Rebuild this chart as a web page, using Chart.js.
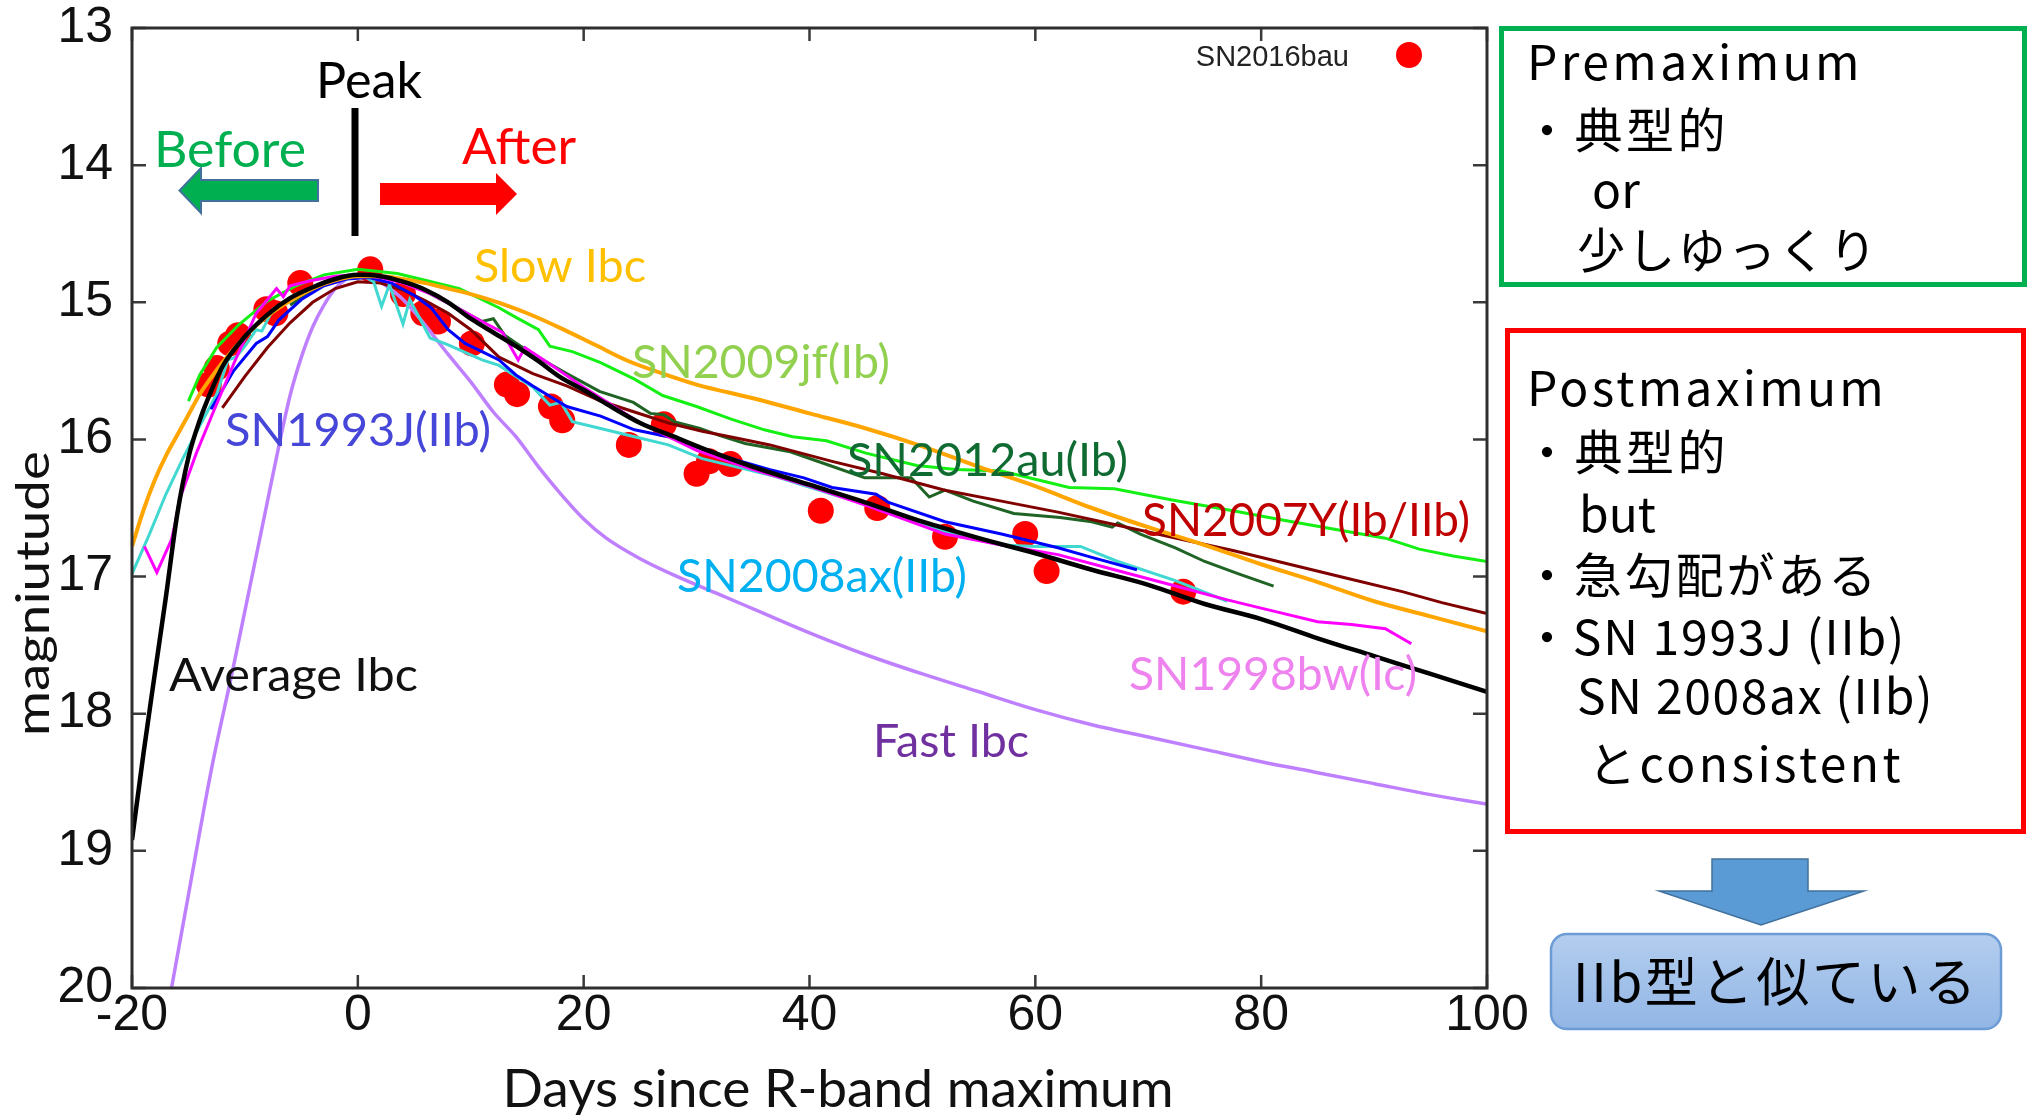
<!DOCTYPE html>
<html>
<head>
<meta charset="utf-8">
<title>SN2016bau R-band light curve</title>
<script src="https://cdn.jsdelivr.net/npm/chart.js@4.4.1/dist/chart.umd.min.js"></script>
<style>
  html, body { margin: 0; padding: 0; background: #fff; }
  #wrap { position: relative; width: 2034px; height: 1115px; }
</style>
</head>
<body>
<div id="wrap"><canvas id="lcChart" width="2034" height="1115"></canvas></div>
<script>
// Days since R-band maximum / R magnitude

// SN2016bau observations (red dots)
var bauDays = [-13.2, -12.5, -11.3, -10.6, -8.1, -7.3, -5.1, 1.1, 4.0, 5.8, 7.1, 10.1, 13.2, 14.1,
  17.1, 18.1, 24.0, 27.1, 30.0, 31.1, 33.0, 41.0, 46.0, 52.0, 59.1, 61.0, 73.1];
var bauMag = [15.60, 15.48, 15.30, 15.24, 15.05, 15.08, 14.86, 14.76, 14.94, 15.08, 15.14, 15.30, 15.60, 15.67,
  15.76, 15.86, 16.04, 15.89, 16.25, 16.16, 16.18, 16.52, 16.50, 16.71, 16.69, 16.96, 17.11];

// Average Ibc template
var avgDays = [-20, -19, -18, -17, -16, -15, -14, -13, -12, -10, -8, -6, -4, -2, 0, 2, 4, 6, 8, 10, 12, 14,
  16, 18, 20, 22, 25, 28, 31, 35, 40, 45, 50, 55, 60, 65, 70, 75, 80, 85, 90, 95, 100];
var avgMag = [18.92, 18.30, 17.72, 17.15, 16.55, 16.13, 15.86, 15.65, 15.47, 15.25, 15.09, 14.97, 14.89, 14.83,
  14.80, 14.81, 14.85, 14.91, 15.00, 15.12, 15.22, 15.32, 15.43, 15.55, 15.64, 15.74, 15.88, 15.98, 16.08,
  16.20, 16.33, 16.46, 16.60, 16.72, 16.83, 16.95, 17.06, 17.20, 17.31, 17.45, 17.58, 17.71, 17.84];

// Slow Ibc template
var slowDays = [-20, -19, -18, -17, -16, -15, -14, -13, -12, -10, -8, -6, -4, -2, 0, 2, 4, 6, 8, 10, 12, 15,
  18, 21, 24, 27, 30, 35, 40, 45, 50, 55, 60, 65, 70, 75, 80, 85, 90, 95, 100];
var slowMag = [16.78, 16.52, 16.30, 16.12, 15.97, 15.82, 15.67, 15.55, 15.44, 15.25, 15.10, 14.99, 14.90,
  14.84, 14.81, 14.81, 14.83, 14.86, 14.90, 14.94, 14.99, 15.08, 15.19, 15.31, 15.43, 15.52, 15.60, 15.70,
  15.81, 15.92, 16.05, 16.20, 16.34, 16.50, 16.64, 16.77, 16.91, 17.04, 17.18, 17.29, 17.40];

// Fast Ibc template
var fastDays = [-16.5, -15, -13, -11, -10, -9, -8, -7, -6, -5, -4, -3, -2, -1, 0, 1, 2, 3, 4, 5, 6, 8, 10,
  12, 14, 16, 18, 20, 22, 25, 28, 32, 36, 40, 45, 50, 55, 60, 65, 70, 75, 80, 85, 90, 95, 100];
var fastMag = [20.0, 19.32, 18.42, 17.65, 17.25, 16.85, 16.45, 16.05, 15.68, 15.40, 15.18, 15.02, 14.90,
  14.83, 14.80, 14.81, 14.85, 14.91, 14.98, 15.07, 15.17, 15.38, 15.58, 15.80, 15.98, 16.20, 16.40, 16.58,
  16.72, 16.87, 16.99, 17.13, 17.27, 17.41, 17.57, 17.71, 17.84, 17.97, 18.08, 18.17, 18.26, 18.35, 18.43,
  18.51, 18.59, 18.66];

// SN2009jf (Ib)
var jfDays = [-15, -14, -12.5, -10.5, -8, -5.5, -3, 0, 3.5, 6.5, 9, 12.5, 14, 16, 17, 19, 21.5, 24.5, 27,
  30, 33, 36, 38.5, 41.5, 45, 49.5, 53, 57, 60, 63, 67, 72, 77.5, 82, 87.5, 91, 94, 97, 100];
var jfMag = [15.72, 15.53, 15.33, 15.16, 14.99, 14.88, 14.80, 14.76, 14.79, 14.85, 14.90, 15.04, 15.11,
  15.20, 15.32, 15.36, 15.44, 15.56, 15.68, 15.76, 15.85, 15.93, 15.98, 16.01, 16.10, 16.19, 16.22, 16.23,
  16.29, 16.35, 16.36, 16.44, 16.52, 16.59, 16.67, 16.72, 16.80, 16.85, 16.89];

// SN2012au (Ib)
var auDays = [-6, -3, 0, 3, 6, 9, 11, 12, 13, 15.5, 18.5, 21.4, 24.4, 25.9, 27.1, 28, 30.3, 32, 34.3, 38.3,
  41.8, 44.9, 47, 49, 50.6, 52, 54.5, 58.1, 62.2, 65, 66.8, 67.3, 69.3, 72.4, 75, 78, 81.1];
var auMag = [15.02, 14.87, 14.80, 14.82, 14.92, 15.05, 15.14, 15.12, 15.24, 15.38, 15.52, 15.65, 15.73,
  15.81, 15.82, 15.87, 15.92, 15.97, 16.03, 16.09, 16.19, 16.28, 16.28, 16.28, 16.42, 16.37, 16.45, 16.54,
  16.57, 16.60, 16.64, 16.61, 16.69, 16.79, 16.89, 16.98, 17.07];

// SN2007Y (Ib/IIb)
var yDays = [-12, -10, -8, -6, -4, -2, 0, 2, 4, 6, 8, 10, 12.5, 15.5, 18.5, 21.5, 24.5, 27.5, 30.5, 33.5,
  36.5, 42, 46.5, 52, 57, 62, 67, 72.5, 77.5, 82.5, 87.5, 92.5, 96, 100];
var yMag = [15.77, 15.54, 15.33, 15.15, 15.00, 14.90, 14.85, 14.86, 14.91, 14.99, 15.08, 15.20, 15.40,
  15.52, 15.61, 15.72, 15.80, 15.88, 15.94, 15.99, 16.04, 16.16, 16.25, 16.37, 16.45, 16.53, 16.62, 16.72,
  16.81, 16.91, 17.01, 17.11, 17.19, 17.27];

// SN2008ax (IIb)
var axDays = [-20, -18.5, -17, -15.5, -14, -12.5, -11.5, -10.8, -10, -9, -8.5, -7.5, -5.5, -2.5, 0.5, 1.4,
  2.1, 2.8, 4.0, 4.6, 6.4, 8, 11, 12.5, 15.5, 17, 18, 19, 21.5, 24.5, 27.5, 30.5, 33.5, 37, 42, 47, 52, 57,
  60, 64, 67.3, 72.4, 77];
var axMag = [16.98, 16.70, 16.40, 16.14, 15.90, 15.67, 15.42, 15.40, 15.32, 15.20, 15.21, 15.05, 14.94,
  14.85, 14.81, 14.85, 15.03, 14.87, 15.16, 14.98, 15.26, 15.31, 15.42, 15.46, 15.62, 15.75, 15.73, 15.87,
  15.92, 15.98, 16.04, 16.14, 16.20, 16.27, 16.40, 16.52, 16.67, 16.77, 16.78, 16.78, 16.89, 17.03, 17.18];

// SN1993J (IIb)
var jDays = [-13, -11, -9, -8, -7, -5, -3, -1, 1, 3, 5, 6.5, 8, 9.5, 11, 12.5, 14, 15.5, 18.5, 21.5, 24.5,
  27.5, 30.5, 33.5, 36.5, 39.5, 42, 45.9, 47, 52, 57, 62, 65, 69];
var jMag = [15.78, 15.50, 15.30, 15.25, 15.13, 14.98, 14.88, 14.83, 14.82, 14.86, 14.95, 15.04, 15.20,
  15.30, 15.36, 15.42, 15.53, 15.61, 15.76, 15.83, 15.93, 15.98, 16.07, 16.15, 16.22, 16.28, 16.35, 16.40,
  16.46, 16.60, 16.69, 16.79, 16.86, 16.95];

// SN1998bw (Ic)
var bwDays = [-18.9, -17.8, -16.5, -16.2, -15.8, -14.3, -12.8, -11, -9, -7.2, -6.6, -6, -4, -2, 0, 2, 4,
  6.5, 9, 11, 12.8, 14.2, 14.8, 17, 20, 25, 30, 35, 40, 45, 52, 57, 62, 67, 72, 77, 81, 85, 88, 91, 93.3];
var bwMag = [16.78, 16.97, 16.73, 16.62, 16.44, 16.10, 15.80, 15.45, 15.08, 14.90, 14.96, 14.88, 14.84,
  14.81, 14.80, 14.82, 14.86, 14.94, 15.05, 15.14, 15.22, 15.42, 15.33, 15.45, 15.62, 15.88, 16.08, 16.22,
  16.34, 16.48, 16.69, 16.77, 16.84, 16.95, 17.06, 17.17, 17.25, 17.33, 17.35, 17.38, 17.49];

// axis ticks
var xTicks = [-20, 0, 20, 40, 60, 80, 100];
var yTicks = [13, 14, 15, 16, 17, 18, 19, 20];

function pairs(xs, ys) {
  return xs.map(function (x, i) { return { x: x, y: ys[i] }; });
}

function curve(label, xs, ys, color, width, order, smooth) {
  return {
    label: label,
    data: pairs(xs, ys),
    borderColor: color,
    backgroundColor: color,
    borderWidth: width,
    pointRadius: 0,
    fill: false,
    order: order,
    clip: 0,
    cubicInterpolationMode: smooth ? 'monotone' : 'default',
    tension: 0
  };
}

// labels written on the plot (left x, baseline y, fitted width)
var plotLabels = [
  { text: 'Peak', x: 316, y: 98, w: 106, size: 50, color: '#000000' },
  { text: 'Before', x: 154, y: 167, w: 152, size: 51, color: '#00b050' },
  { text: 'After', x: 462, y: 164, w: 114, size: 50, color: '#ff0000' },
  { text: 'Slow Ibc', x: 474, y: 282, w: 172, size: 46, color: '#ffc000' },
  { text: 'SN2009jf(Ib)', x: 632, y: 378, w: 258, size: 46, color: '#92d050' },
  { text: 'SN1993J(IIb)', x: 225, y: 446, w: 266, size: 46, color: '#4646d8' },
  { text: 'SN2012au(Ib)', x: 847, y: 476, w: 281, size: 46, color: '#0f6b32' },
  { text: 'SN2007Y(Ib/IIb)', x: 1142, y: 536, w: 328, size: 46, color: '#c00000' },
  { text: 'SN2008ax(IIb)', x: 677, y: 592, w: 290, size: 46, color: '#00b0f0' },
  { text: 'Average Ibc', x: 169, y: 691, w: 249, size: 46, color: '#111111' },
  { text: 'SN1998bw(Ic)', x: 1129, y: 690, w: 288, size: 46, color: '#ee82ee' },
  { text: 'Fast Ibc', x: 873, y: 757, w: 156, size: 46, color: '#7030a0' }
];

// text of the side panel (left x, baseline y, width)
var jpFont = '"Noto Sans CJK JP", "Noto Sans CJK SC", sans-serif';
var greenLines = [
  { text: 'Premaximum', x: 1527, y: 80, w: 336 },
  { text: '・典型的', x: 1523, y: 148, w: 206 },
  { text: 'or', x: 1592, y: 208, w: 48 },
  { text: '少しゆっくり', x: 1577, y: 268, w: 302 }
];
var redLines = [
  { text: 'Postmaximum', x: 1527, y: 406, w: 360 },
  { text: '・典型的', x: 1523, y: 470, w: 206 },
  { text: 'but', x: 1579, y: 532, w: 77 },
  { text: '・急勾配がある', x: 1523, y: 593, w: 356 },
  { text: '・SN 1993J (IIb)', x: 1523, y: 655, w: 383 },
  { text: 'SN 2008ax (IIb)', x: 1577, y: 714, w: 357 },
  { text: 'とconsistent', x: 1588, y: 782, w: 316 }
];

function fitText(ctx, text, x, y, w, font, color) {
  ctx.save();
  ctx.font = font;
  ctx.textAlign = 'left';
  ctx.textBaseline = 'alphabetic';
  var m = ctx.measureText(text).width;
  ctx.translate(x, y);
  ctx.scale(w / m, 1);
  ctx.fillStyle = color;
  ctx.fillText(text, 0, 0);
  ctx.restore();
}

function spacedText(ctx, text, x, y, w, font) {
  ctx.save();
  ctx.font = font;
  ctx.textAlign = 'left';
  ctx.textBaseline = 'alphabetic';
  ctx.fillStyle = '#000';
  var m = ctx.measureText(text).width;
  var n = Array.from(text).length;
  if ('letterSpacing' in ctx) {
    ctx.letterSpacing = ((w - m) / n) + 'px';
    ctx.fillText(text, x, y);
    ctx.letterSpacing = '0px';
  } else {
    ctx.translate(x, y);
    ctx.scale(w / m, 1);
    ctx.fillText(text, 0, 0);
  }
  ctx.restore();
}

function poly(ctx, pts, fill, stroke, lw) {
  ctx.beginPath();
  ctx.moveTo(pts[0][0], pts[0][1]);
  for (var i = 1; i < pts.length; i++) ctx.lineTo(pts[i][0], pts[i][1]);
  ctx.closePath();
  ctx.fillStyle = fill;
  ctx.fill();
  if (stroke) {
    ctx.strokeStyle = stroke;
    ctx.lineWidth = lw;
    ctx.stroke();
  }
}

// gnuplot-like frame, inward ticks, titles, legend, notes
var decorations = {
  id: 'decorations',
  afterDatasetsDraw: function (chart) {
    var ctx = chart.ctx;
    var ca = chart.chartArea;
    var xs = chart.scales.x, ys = chart.scales.y;

    ctx.save();
    ctx.strokeStyle = '#3a3a3a';
    ctx.lineWidth = 2.5;
    xTicks.forEach(function (v) {
      var px = xs.getPixelForValue(v);
      ctx.beginPath();
      ctx.moveTo(px, ca.bottom); ctx.lineTo(px, ca.bottom - 13);
      ctx.moveTo(px, ca.top); ctx.lineTo(px, ca.top + 13);
      ctx.stroke();
    });
    yTicks.forEach(function (v) {
      var py = ys.getPixelForValue(v);
      ctx.beginPath();
      ctx.moveTo(ca.left, py); ctx.lineTo(ca.left + 14, py);
      ctx.moveTo(ca.right, py); ctx.lineTo(ca.right - 14, py);
      ctx.stroke();
    });
    ctx.lineWidth = 3;
    ctx.strokeStyle = '#2e2e2e';
    ctx.strokeRect(ca.left, ca.top, ca.right - ca.left, ca.bottom - ca.top);

    // axis titles
    fitText(ctx, 'Days since R-band maximum', 838 - 671 / 2, 1107, 671, '53px Lato', '#111');
    ctx.save();
    ctx.translate(49, 594);
    ctx.rotate(-Math.PI / 2);
    fitText(ctx, 'magniutude', -142, 0, 285, '46px Lato', '#111');
    ctx.restore();

    // legend
    ctx.font = '29px "Liberation Sans", Arial, sans-serif';
    ctx.fillStyle = '#222';
    ctx.textAlign = 'right';
    ctx.textBaseline = 'alphabetic';
    ctx.fillText('SN2016bau', 1349, 66);
    ctx.beginPath();
    ctx.arc(1409, 55, 13, 0, Math.PI * 2);
    ctx.fillStyle = '#ff0000';
    ctx.fill();

    // peak marker and arrows
    ctx.fillStyle = '#000';
    ctx.fillRect(351.5, 108, 7, 128);
    poly(ctx, [[318, 180], [201, 180], [201, 168], [179.5, 190.5], [201, 213], [201, 201], [318, 201]],
      '#00b050', '#41719c', 2);
    poly(ctx, [[380, 183], [496, 183], [496, 173], [517, 194], [496, 215], [496, 205], [380, 205]],
      '#ff0000');

    plotLabels.forEach(function (l) {
      fitText(ctx, l.text, l.x, l.y, l.w, l.size + 'px Lato', l.color);
    });

    // side panel
    ctx.lineWidth = 5;
    ctx.strokeStyle = '#00b050';
    ctx.strokeRect(1501.5, 28.5, 523, 256);
    ctx.strokeStyle = '#ff0000';
    ctx.strokeRect(1507.5, 330.5, 516, 501);
    greenLines.concat(redLines).forEach(function (l) {
      spacedText(ctx, l.text, l.x, l.y, l.w, '48px ' + jpFont);
    });

    poly(ctx, [[1712, 859], [1808, 859], [1808, 891], [1864, 891], [1761, 925], [1659, 891], [1712, 891]],
      '#5b9bd5', '#41719c', 1.5);

    var g = ctx.createLinearGradient(0, 934, 0, 1029);
    g.addColorStop(0, '#b3cdee');
    g.addColorStop(1, '#92b6e6');
    ctx.beginPath();
    ctx.roundRect(1551, 934, 450, 95, 16);
    ctx.fillStyle = g;
    ctx.fill();
    ctx.lineWidth = 2.5;
    ctx.strokeStyle = '#6c9cd6';
    ctx.stroke();
    spacedText(ctx, 'IIb型と似ている', 1573, 1002, 406, '53px ' + jpFont);
    ctx.restore();
  }
};

var ctx = document.getElementById('lcChart').getContext('2d');

var data = {
  datasets: [
    {
      type: 'scatter',
      label: 'SN2016bau',
      data: pairs(bauDays, bauMag),
      backgroundColor: '#ff0000',
      borderColor: '#ff0000',
      borderWidth: 0,
      pointRadius: 13,
      showLine: false,
      order: 20,
      clip: 0
    },
    curve('Fast Ibc', fastDays, fastMag, '#bf80ff', 3.5, 9, true),
    curve('SN2009jf(Ib)', jfDays, jfMag, '#14f014', 3, 8, false),
    curve('SN2012au(Ib)', auDays, auMag, '#1f6424', 3, 7, false),
    curve('SN2007Y(Ib/IIb)', yDays, yMag, '#800000', 3, 6, false),
    curve('SN2008ax(IIb)', axDays, axMag, '#40d8d0', 3, 5, false),
    curve('SN1993J(IIb)', jDays, jMag, '#0000ff', 3, 4, false),
    curve('SN1998bw(Ic)', bwDays, bwMag, '#ff00ff', 3, 3, false),
    curve('Slow Ibc', slowDays, slowMag, '#ffa500', 4, 2, true),
    curve('Average Ibc', avgDays, avgMag, '#000000', 4.5, 1, true)
  ]
};

var tickFont = { family: '"Liberation Sans", Arial, sans-serif', size: 50, lineHeight: 1 };

function noEdgePadding(s) {
  s.paddingTop = 0;
  s.paddingBottom = 0;
  s.paddingLeft = 0;
  s.paddingRight = 0;
}

var options = {
  responsive: false,
  animation: false,
  events: [],
  layout: { padding: { top: 28, right: 547, left: 0, bottom: 0 } },
  plugins: { legend: { display: false }, tooltip: { enabled: false } },
  scales: {
    x: {
      type: 'linear',
      min: -20,
      max: 100,
      grid: { display: false, drawTicks: false, tickLength: 0 },
      border: { display: false },
      ticks: { font: tickFont, color: '#111', padding: 3, maxRotation: 0 },
      afterBuildTicks: function (s) { s.ticks = xTicks.map(function (v) { return { value: v }; }); },
      afterFit: function (s) { s.height = 127; noEdgePadding(s); }
    },
    y: {
      type: 'linear',
      reverse: true,
      min: 13,
      max: 20,
      grid: { display: false, drawTicks: false, tickLength: 0 },
      border: { display: false },
      ticks: { font: tickFont, color: '#111', padding: 19 },
      afterBuildTicks: function (s) { s.ticks = yTicks.map(function (v) { return { value: v }; }); },
      afterFit: function (s) { s.width = 132; noEdgePadding(s); }
    }
  }
};

var lcChart = new Chart(ctx, {
  type: 'line',
  data: data,
  options: options,
  plugins: [decorations]
});
</script>
</body>
</html>
